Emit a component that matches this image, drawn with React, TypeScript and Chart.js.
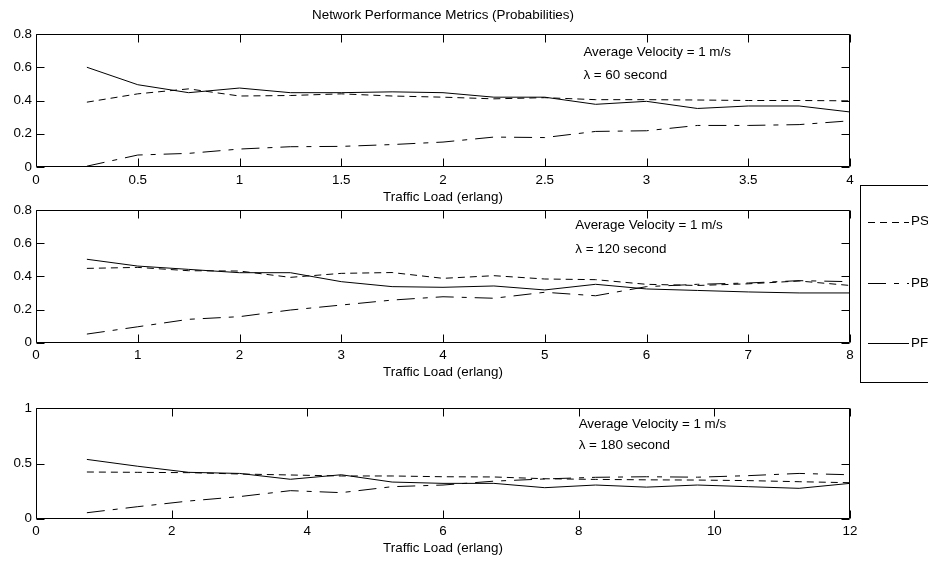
import React, { useEffect, useRef } from "react";
import { Chart, registerables } from "chart.js";

Chart.register(...registerables);

// ---------- data ----------
const chartTitle = "Network Performance Metrics (Probabilities)";
const xAxisTitle = "Traffic Load (erlang)";
const seriesLabels = ["PS", "PB", "PF"];

// Panel 1: lambda = 60 s
const load1 = [0.25, 0.5, 0.75, 1, 1.25, 1.5, 1.75, 2, 2.25, 2.5, 2.75, 3, 3.25, 3.5, 3.75, 4];
const ps1 = [0.39, 0.44, 0.47, 0.427, 0.43, 0.44, 0.427, 0.42, 0.41, 0.417, 0.405, 0.405, 0.403, 0.4, 0.4, 0.398];
const pb1 = [0.005, 0.072, 0.082, 0.108, 0.122, 0.124, 0.135, 0.15, 0.18, 0.177, 0.214, 0.218, 0.25, 0.25, 0.255, 0.278];
const pf1 = [0.6, 0.495, 0.447, 0.475, 0.447, 0.447, 0.452, 0.447, 0.42, 0.42, 0.377, 0.395, 0.352, 0.367, 0.367, 0.331];

// Panel 2: lambda = 120 s
const load2 = [0.5, 1, 1.5, 2, 2.5, 3, 3.5, 4, 4.5, 5, 5.5, 6, 6.5, 7, 7.5, 8];
const ps2 = [0.448, 0.454, 0.434, 0.432, 0.394, 0.418, 0.423, 0.388, 0.404, 0.384, 0.38, 0.352, 0.345, 0.355, 0.372, 0.345];
const pb2 = [0.052, 0.096, 0.141, 0.157, 0.197, 0.227, 0.257, 0.277, 0.268, 0.304, 0.283, 0.338, 0.352, 0.36, 0.374, 0.368];
const pf2 = [0.503, 0.462, 0.442, 0.422, 0.422, 0.368, 0.338, 0.334, 0.342, 0.318, 0.352, 0.324, 0.315, 0.306, 0.3, 0.3];

// Panel 3: lambda = 180 s
const load3 = [0.75, 1.5, 2.25, 3, 3.75, 4.5, 5.25, 6, 6.75, 7.5, 8.25, 9, 9.75, 10.5, 11.25, 12];
const ps3 = [0.423, 0.42, 0.417, 0.405, 0.396, 0.387, 0.387, 0.38, 0.378, 0.362, 0.356, 0.352, 0.35, 0.345, 0.335, 0.326];
const pb3 = [0.054, 0.109, 0.16, 0.2, 0.254, 0.236, 0.29, 0.305, 0.34, 0.36, 0.375, 0.38, 0.376, 0.39, 0.41, 0.398];
const pf3 = [0.537, 0.475, 0.42, 0.41, 0.357, 0.398, 0.332, 0.32, 0.32, 0.281, 0.305, 0.286, 0.305, 0.29, 0.275, 0.32];

// tick values
const xTicks1 = [0, 0.5, 1, 1.5, 2, 2.5, 3, 3.5, 4];
const xTicks2 = [0, 1, 2, 3, 4, 5, 6, 7, 8];
const xTicks3 = [0, 2, 4, 6, 8, 10, 12];
const yTicks12 = [0, 0.2, 0.4, 0.6, 0.8];
const yTicks3 = [0, 0.5, 1];

const velocityText = "Average Velocity = 1 m/s";
const lambdaTexts = ["λ = 60 second", "λ = 120 second", "λ = 180 second"];

// ---------- styles ----------
const FONT_FAMILY = "'Liberation Sans', Arial, Helvetica, sans-serif";
const FONT_SIZE = 13.4;
const FONT = { family: FONT_FAMILY, size: FONT_SIZE };
const DASH_PS = [7, 5];
const DASH_PB = [18, 8, 5, 8];
const DASH_PF: number[] = [];
const dashes = [DASH_PS, DASH_PB, DASH_PF];

const toPoints = (xs: number[], ys: number[]) => xs.map((x, i) => ({ x, y: ys[i] }));

const boxTicksPlugin = {
  id: "boxTicks",
  afterDraw(chart: any) {
    const { ctx, chartArea } = chart;
    const { left, right, top, bottom } = chartArea;
    const L = Math.round(left) + 0.5;
    const R = Math.round(right) - 0.5;
    const T = Math.round(top) + 0.5;
    const B = Math.round(bottom) - 0.5;
    const len = 8;
    ctx.save();
    ctx.strokeStyle = "#000";
    ctx.lineWidth = 1;
    ctx.setLineDash([]);
    ctx.beginPath();
    ctx.rect(L, T, R - L, B - T);
    const xs = chart.scales.x;
    xs.ticks.forEach((t: any) => {
      const px = Math.round(xs.getPixelForValue(t.value)) + 0.5;
      ctx.moveTo(px, B);
      ctx.lineTo(px, B - len);
      ctx.moveTo(px, T);
      ctx.lineTo(px, T + len);
    });
    const ys = chart.scales.y;
    ys.ticks.forEach((t: any) => {
      const py = Math.round(ys.getPixelForValue(t.value)) + 0.5;
      ctx.moveTo(L, py);
      ctx.lineTo(L + len, py);
      ctx.moveTo(R, py);
      ctx.lineTo(R - len, py);
    });
    ctx.stroke();
    ctx.restore();
  },
};

const annotationPlugin = {
  id: "annot",
  afterDraw(chart: any, _args: any, opts: any) {
    const { ctx, chartArea } = chart;
    ctx.save();
    ctx.fillStyle = "#000";
    ctx.font = `${FONT_SIZE}px ${FONT_FAMILY}`;
    ctx.textBaseline = "middle";
    if (opts && opts.title) {
      ctx.textAlign = "center";
      ctx.fillText(opts.title, (chartArea.left + chartArea.right) / 2, opts.titleY);
    }
    ctx.textAlign = "left";
    if (opts && opts.items) {
      opts.items.forEach((it: any) => {
        const px = chart.scales.x.getPixelForValue(it.x);
        const py = chart.scales.y.getPixelForValue(it.y);
        ctx.fillText(it.text, px, py);
      });
    }
    ctx.restore();
  },
};

const legendBoxPlugin = {
  id: "legendBox",
  afterDraw(chart: any, _args: any, opts: any) {
    if (!opts || !opts.show) return;
    const { ctx } = chart;
    const { left, top, width, height, rows, lineStart, lineEnd, textX } = opts;
    ctx.save();
    ctx.strokeStyle = "#000";
    ctx.lineWidth = 1;
    ctx.setLineDash([]);
    ctx.strokeRect(left + 0.5, top + 0.5, width, height);
    ctx.font = `${FONT_SIZE}px ${FONT_FAMILY}`;
    ctx.fillStyle = "#000";
    ctx.textAlign = "left";
    ctx.textBaseline = "middle";
    chart.data.datasets.forEach((ds: any, i: number) => {
      const y = Math.round(rows[i]) + 0.5;
      ctx.setLineDash(ds.borderDash || []);
      ctx.beginPath();
      ctx.moveTo(lineStart, y);
      ctx.lineTo(lineEnd, y);
      ctx.stroke();
      ctx.fillText(ds.label, textX, rows[i]);
    });
    ctx.restore();
  },
};

function makeConfig(p: any) {
  return {
    type: "line",
    data: {
      datasets: p.series.map((ys: number[], i: number) => ({
        label: seriesLabels[i],
        data: toPoints(p.xs, ys),
        borderColor: "#000",
        borderWidth: 1,
        borderDash: dashes[i],
        pointRadius: 0,
        fill: false,
        tension: 0,
      })),
    },
    options: {
      responsive: false,
      animation: false,
      devicePixelRatio: 1,
      layout: { padding: p.padding },
      plugins: {
        legend: { display: false },
        tooltip: { enabled: false },
        title: { display: false },
        annot: { items: p.annotations, title: p.title, titleY: 15 },
        legendBox: p.legendBox || { show: false },
      },
      scales: {
        x: {
          type: "linear",
          min: p.xTicks[0],
          max: p.xTicks[p.xTicks.length - 1],
          afterBuildTicks: (s: any) => {
            s.ticks = p.xTicks.map((v: number) => ({ value: v }));
          },
          afterFit: (s: any) => {
            s.height = 38;
          },
          grid: { display: false, drawTicks: false },
          border: { display: false },
          ticks: {
            color: "#000",
            font: FONT,
            padding: 5,
            maxRotation: 0,
            autoSkip: false,
            callback: (v: number) => String(v),
          },
          title: {
            display: true,
            text: xAxisTitle,
            color: "#000",
            font: FONT,
            padding: { top: 0, bottom: 0 },
          },
        },
        y: {
          type: "linear",
          min: p.yTicks[0],
          max: p.yTicks[p.yTicks.length - 1],
          afterBuildTicks: (s: any) => {
            s.ticks = p.yTicks.map((v: number) => ({ value: v }));
          },
          afterFit: (s: any) => {
            s.width = 36;
          },
          grid: { display: false, drawTicks: false },
          border: { display: false },
          ticks: {
            color: "#000",
            font: FONT,
            padding: 4,
            autoSkip: false,
            callback: (v: number) => String(v),
          },
        },
      },
    },
    plugins: [boxTicksPlugin, annotationPlugin, legendBoxPlugin],
  };
}

const panels = [
  {
    top: 0,
    height: 205,
    xs: load1,
    series: [ps1, pb1, pf1],
    xTicks: xTicks1,
    yTicks: yTicks12,
    title: chartTitle,
    padding: { left: 0, right: 78, top: 34, bottom: 0 },
    annotations: [
      { x: 2.69, y: 0.692, text: velocityText },
      { x: 2.69, y: 0.551, text: lambdaTexts[0] },
    ],
  },
  {
    top: 180,
    height: 210,
    xs: load2,
    series: [ps2, pb2, pf2],
    xTicks: xTicks2,
    yTicks: yTicks12,
    title: null,
    padding: { left: 0, right: 78, top: 30, bottom: 9.3 },
    annotations: [
      { x: 5.3, y: 0.706, text: velocityText },
      { x: 5.3, y: 0.562, text: lambdaTexts[1] },
    ],
    legendBox: {
      show: true,
      left: 860,
      top: 5,
      width: 90,
      height: 197,
      rows: [41.7, 103, 163],
      lineStart: 868,
      lineEnd: 909,
      textX: 911,
    },
  },
  {
    top: 385,
    height: 176,
    xs: load3,
    series: [ps3, pb3, pf3],
    xTicks: xTicks3,
    yTicks: yTicks3,
    title: null,
    padding: { left: 0, right: 78, top: 23.3, bottom: 4.3 },
    annotations: [
      { x: 8.0, y: 0.851, text: velocityText },
      { x: 8.0, y: 0.668, text: lambdaTexts[2] },
    ],
  },
];

function Panel({ p }: { p: any }) {
  const ref = useRef<HTMLCanvasElement | null>(null);
  useEffect(() => {
    if (!ref.current) return;
    const chart = new Chart(ref.current, makeConfig(p) as any);
    return () => chart.destroy();
  }, []);
  return (
    <canvas
      ref={ref}
      width={928}
      height={p.height}
      style={{ position: "absolute", left: 0, top: p.top, width: 928, height: p.height }}
    />
  );
}

export default function App() {
  return (
    <div
      style={{
        position: "fixed",
        left: 0,
        top: 0,
        width: 928,
        height: 561,
        background: "#fff",
        overflow: "hidden",
      }}
    >
      {panels.map((p, i) => (
        <Panel key={i} p={p} />
      ))}
    </div>
  );
}
